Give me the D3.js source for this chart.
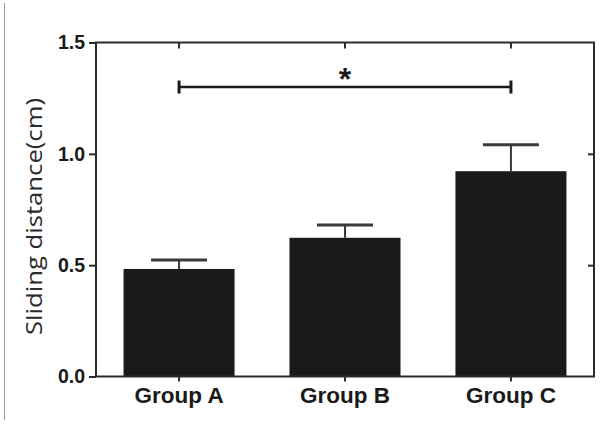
<!DOCTYPE html>
<html>
<head>
<meta charset="utf-8">
<script src="https://cdn.jsdelivr.net/npm/d3@7"></script>
<style>
  html, body { margin: 0; padding: 0; background: #fff; }
  svg { display: block; }
</style>
</head>
<body>
<svg id="chart" width="600" height="425"></svg>
<script>
// ---- data ----
const categories = ["Group A", "Group B", "Group C"];
const means = [0.483, 0.623, 0.922];
const errors = [0.04, 0.057, 0.119];
const yTicks = [0.0, 0.5, 1.0, 1.5];
const yTickLabels = ["0.0", "0.5", "1.0", "1.5"];
const sigFrom = "Group A";
const sigTo = "Group C";
const sigLevel = 1.3;
const sigLabel = "*";
const yTitle = "Sliding distance(cm)";

// ---- layout ----
const svg = d3.select("#chart");
const mLeft = 96, mRight = 594, mTop = 42.5, mBottom = 376.5;
const axisColor = "#2b2b2b";

const x = d3.scaleBand().domain(categories).range([mLeft, mRight])
  .paddingInner(0.331).paddingOuter(0.166);
const y = d3.scaleLinear().domain([0, 1.5]).range([mBottom, mTop]);

// thin grey border line at the far left
svg.append("line").attr("x1", 4.5).attr("x2", 4.5).attr("y1", 3).attr("y2", 420)
  .attr("stroke", "#9a9a9a").attr("stroke-width", 1);

// bars
svg.append("g").selectAll("rect").data(categories).join("rect")
  .attr("x", d => x(d))
  .attr("y", (d, i) => y(means[i]))
  .attr("width", x.bandwidth())
  .attr("height", (d, i) => y(0) - y(means[i]))
  .attr("fill", "#1a1a1a");

// error bars (upper only)
const eb = svg.append("g").attr("stroke", "#3a3a3a");
categories.forEach((c, i) => {
  const cx = x(c) + x.bandwidth() / 2;
  eb.append("line").attr("x1", cx).attr("x2", cx)
    .attr("y1", y(means[i])).attr("y2", y(means[i] + errors[i]))
    .attr("stroke-width", 2);
  eb.append("line").attr("x1", cx - 28).attr("x2", cx + 28)
    .attr("y1", y(means[i] + errors[i])).attr("y2", y(means[i] + errors[i]))
    .attr("stroke-width", 3);
});

// axes
const fmt = (d) => yTickLabels[yTicks.indexOf(d)];
const yAxisL = d3.axisLeft(y).tickValues(yTicks).tickFormat(fmt).tickSize(7).tickPadding(4);
const yAxisR = d3.axisLeft(y).tickValues(yTicks.slice(1, 3)).tickFormat("").tickSize(6);
const xAxisB = d3.axisBottom(x).tickSize(5).tickPadding(6);
const xAxisT = d3.axisBottom(x).tickSize(6).tickFormat("");

function styleAxis(g) {
  g.select(".domain").remove();
  g.selectAll(".tick line").attr("stroke", axisColor).attr("stroke-width", 2);
}

svg.append("g").attr("transform", `translate(${mLeft},0)`).call(yAxisL).call(styleAxis)
  .selectAll("text")
  .attr("font-family", "'Liberation Sans', Arial, sans-serif")
  .attr("font-weight", "bold").attr("font-size", 19.5).attr("fill", "#1a1a1a");

svg.append("g").attr("transform", `translate(${mRight},0)`).call(yAxisR).call(styleAxis);

svg.append("g").attr("transform", `translate(0,${mBottom})`).call(xAxisB).call(styleAxis)
  .selectAll("text")
  .attr("font-family", "'Liberation Sans', Arial, sans-serif")
  .attr("font-weight", "bold").attr("font-size", 22.5).attr("fill", "#1a1a1a");

svg.append("g").attr("transform", `translate(0,${mTop})`).call(xAxisT).call(styleAxis);

// frame
svg.append("rect").attr("x", mLeft).attr("y", mTop)
  .attr("width", mRight - mLeft).attr("height", mBottom - mTop)
  .attr("fill", "none").attr("stroke", axisColor).attr("stroke-width", 2);

// y-axis title
svg.append("text")
  .attr("transform", `translate(42,${(98 + 335) / 2}) rotate(-90)`)
  .attr("text-anchor", "middle")
  .attr("font-family", "'Open Sans', 'Noto Sans', sans-serif")
  .attr("font-size", 21).attr("fill", "#2a2a2a")
  .attr("textLength", 237).attr("lengthAdjust", "spacingAndGlyphs")
  .text(yTitle);

// significance bracket
const sx1 = x(sigFrom) + x.bandwidth() / 2;
const sx2 = x(sigTo) + x.bandwidth() / 2;
const sy = y(sigLevel);
const sg = svg.append("g").attr("stroke", "#1a1a1a");
sg.append("line").attr("x1", sx1).attr("x2", sx2).attr("y1", sy).attr("y2", sy).attr("stroke-width", 2.5);
sg.append("line").attr("x1", sx1).attr("x2", sx1).attr("y1", sy - 6.5).attr("y2", sy + 6.5).attr("stroke-width", 3);
sg.append("line").attr("x1", sx2).attr("x2", sx2).attr("y1", sy - 6.5).attr("y2", sy + 6.5).attr("stroke-width", 3);
svg.append("text")
  .attr("x", (sx1 + sx2) / 2).attr("y", 90)
  .attr("text-anchor", "middle")
  .attr("font-family", "'Liberation Sans', Arial, sans-serif")
  .attr("font-weight", "bold").attr("font-size", 32).attr("fill", "#1a1a1a")
  .text(sigLabel);
</script>
</body>
</html>
